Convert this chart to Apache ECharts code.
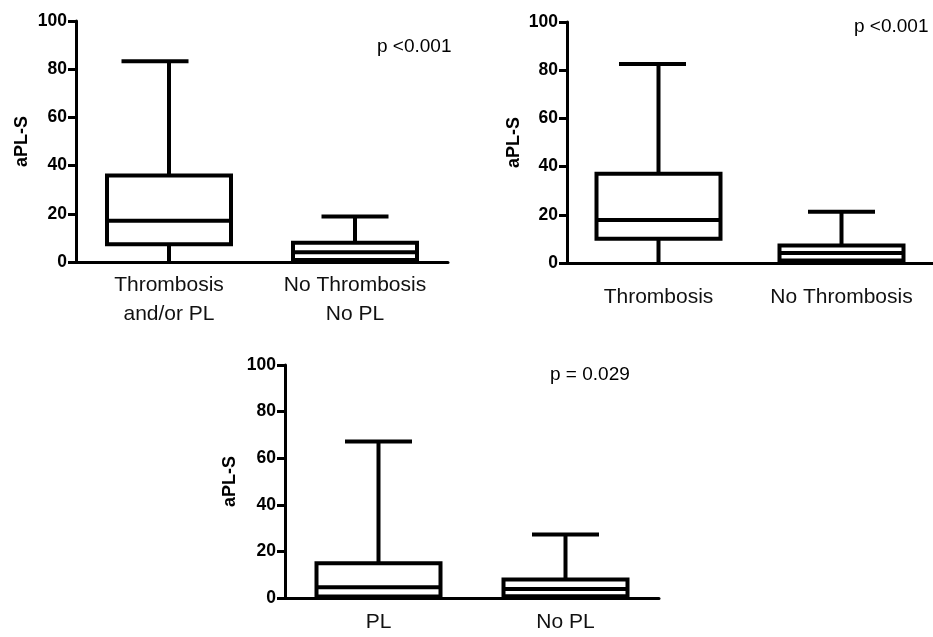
<!DOCTYPE html>
<html><head><meta charset="utf-8">
<script src="https://cdn.jsdelivr.net/npm/echarts@6/dist/echarts.min.js"></script>
<style>html,body{margin:0;padding:0;background:#fff}#c{width:933px;height:637px}</style>
</head><body><div id="c"></div>
<script>
// ---- data ----
const yMin = 0, yMax = 100, yStep = 20;
const yName = 'aPL-S';
const cats1 = ['Thrombosis\nand/or PL', 'No Thrombosis\nNo PL'];
const box1 = [[0, 7.4, 17.1, 35.9, 83.3], [0, 0.8, 4.0, 8.0, 18.9]]; // min,q1,median,q3,max
const cats2 = ['Thrombosis', 'No Thrombosis'];
const box2 = [[0, 10.1, 17.8, 37.0, 82.6], [0, 1.0, 4.1, 7.3, 21.3]];
const cats3 = ['PL', 'No PL'];
const box3 = [[0, 0.6, 4.6, 14.9, 67.2], [0, 0.7, 3.9, 7.9, 27.2]];
const pLabels = ['p <0.001', 'p <0.001', 'p = 0.029'];

// ---- style / layout ----
const FONT = 'Liberation Sans, Arial, sans-serif';
const BOX_W = 124, CAP_W = 63, LW = 4;
const panels = [
  {cats: cats1, box: box1, grid: {left: 76, top: 21, width: 372, height: 241}, labMargin: 9, nameGap: 45, capShift: [-14, 0], p: {x: 377, y: 48}},
  {cats: cats2, box: box2, grid: {left: 567, top: 22, width: 373, height: 241}, labMargin: 20, nameGap: 44, capShift: [-6, 0], p: {x: 854, y: 28}},
  {cats: cats3, box: box3, grid: {left: 285, top: 365, width: 374, height: 242}, labMargin: 10, nameGap: 46, capShift: [0, 0], p: {x: 550, y: 376}}
];

function makeRender(shifts) {
  return function (params, api) {
    const x = api.value(0);
    const mn = api.coord([x, api.value(1)]);
    const q1 = api.coord([x, api.value(2)]);
    const md = api.coord([x, api.value(3)]);
    const q3 = api.coord([x, api.value(4)]);
    const mx = api.coord([x, api.value(5)]);
    const cx = mn[0];
    const bw = BOX_W / 2, cw = CAP_W / 2;
    const sh = shifts[params.dataIndex] || 0;
    const st = {stroke: '#000', lineWidth: LW, fill: null};
    return {type: 'group', children: [
      {type: 'line', shape: {x1: cx, y1: q3[1], x2: cx, y2: mx[1]}, style: st},
      {type: 'line', shape: {x1: cx, y1: q1[1], x2: cx, y2: mn[1]}, style: st},
      {type: 'line', shape: {x1: cx - cw + sh - 2, y1: mx[1], x2: cx + cw + sh + 2, y2: mx[1]}, style: st},
      {type: 'rect', shape: {x: cx - bw, y: q3[1], width: 2 * bw, height: q1[1] - q3[1]}, style: {stroke: '#000', lineWidth: LW, fill: '#fff'}},
      {type: 'line', shape: {x1: cx - bw, y1: md[1], x2: cx + bw, y2: md[1]}, style: st}
    ]};
  };
}

const grids = [], xAxes = [], yAxes = [], series = [], graphics = [];
panels.forEach((pn, i) => {
  grids.push(pn.grid);
  xAxes.push({
    type: 'category', gridIndex: i, data: pn.cats, boundaryGap: true,
    axisLine: {lineStyle: {color: '#000', width: 3}},
    axisTick: {alignWithLabel: true, interval: 0, length: 6, lineStyle: {color: '#000', width: 3}},
    axisLabel: {interval: 0, hideOverlap: false, color: '#111', fontFamily: FONT, fontSize: 21, lineHeight: 29, margin: pn.labMargin},
    splitLine: {show: false}
  });
  yAxes.push({
    type: 'value', gridIndex: i, min: yMin, max: yMax, interval: yStep,
    name: yName, nameLocation: 'middle', nameRotate: 90, nameGap: pn.nameGap,
    nameTextStyle: {color: '#000', fontFamily: FONT, fontSize: 18, fontWeight: 'bold'},
    axisLine: {show: true, lineStyle: {color: '#000', width: 3}},
    axisTick: {show: true, length: 8, lineStyle: {color: '#000', width: 3}},
    axisLabel: {color: '#000', fontFamily: FONT, fontSize: 17.5, fontWeight: 'bold', margin: 9},
    splitLine: {show: false}
  });
  series.push({
    type: 'custom', xAxisIndex: i, yAxisIndex: i,
    renderItem: makeRender(pn.capShift),
    encode: {x: 0, y: [1, 2, 3, 4, 5]},
    data: pn.box.map((b, k) => [k].concat(b)),
    z: 3
  });
  graphics.push({
    type: 'text', left: pn.p.x, top: pn.p.y - 11,
    style: {text: pLabels[i], fill: '#000', font: '19px ' + FONT}
  });
});

const chart = echarts.init(document.getElementById('c'), null, {renderer: 'canvas'});
chart.setOption({
  animation: false,
  backgroundColor: '#fff',
  grid: grids, xAxis: xAxes, yAxis: yAxes, series: series, graphic: graphics
});
</script></body></html>
